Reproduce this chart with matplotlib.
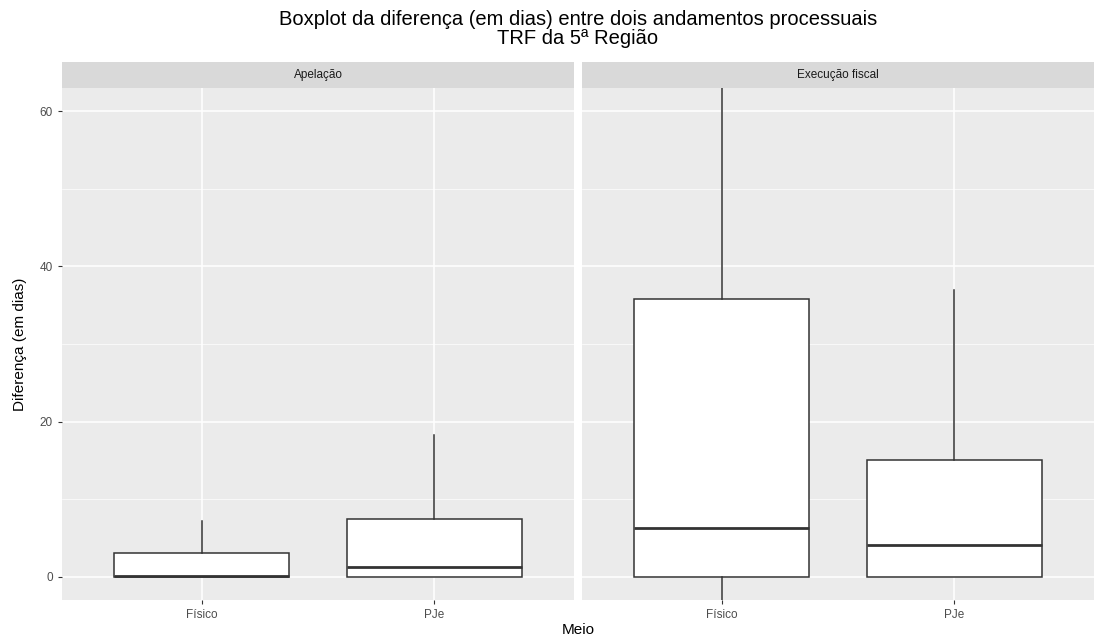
import matplotlib
matplotlib.use("Agg")
import matplotlib.pyplot as plt

plt.rcParams['font.family'] = ['Liberation Sans', 'DejaVu Sans']

# dados (dias)
paineis = ["Apelação", "Execução fiscal"]
meios = ["Físico", "PJe"]
q1 = [[0.0, 0.0], [0.0, 0.0]]
mediana = [[0.1, 1.2], [6.3, 4.1]]
q3 = [[3.0, 7.5], [35.8, 15.1]]
bigode_inf = [[0.0, 0.0], [-8.0, 0.0]]
bigode_sup = [[7.2, 18.3], [88.0, 37.0]]

fig = plt.figure(figsize=(10.94, 6.42), dpi=100)

pos_x = [62 / 1094, 582 / 1094]
larg = 512 / 1094
base = 42 / 642
alt = 512 / 642
strip_h = 26 / 642
centro = 578 / 1094  # centro da area dos paineis

for k, nome in enumerate(paineis):
    ax = fig.add_axes([pos_x[k], base, larg, alt])
    ax.set_facecolor("#EBEBEB")
    stats = []
    for j, m in enumerate(meios):
        stats.append({"label": m, "q1": q1[k][j], "med": mediana[k][j], "q3": q3[k][j],
                      "whislo": bigode_inf[k][j], "whishi": bigode_sup[k][j], "fliers": []})
    ax.bxp(stats, positions=[1, 2], widths=0.75, showcaps=False, patch_artist=True,
           boxprops=dict(facecolor="white", edgecolor="#333333", linewidth=1.1),
           medianprops=dict(color="#333333", linewidth=2.0),
           whiskerprops=dict(color="#333333", linewidth=1.1), zorder=3)
    ax.set_xlim(0.4, 2.6)
    ax.set_ylim(-3, 63)
    ax.set_yticks([0, 20, 40, 60])
    ax.set_yticks([10, 30, 50], minor=True)
    ax.grid(True, which="major", color="white", linewidth=1.1, zorder=0)
    ax.grid(True, which="minor", axis="y", color="white", linewidth=0.5, zorder=0)
    ax.set_axisbelow(True)
    for s in ax.spines.values():
        s.set_visible(False)
    ax.tick_params(axis="both", colors="#333333", length=3, width=0.8, labelsize=8.5,
                   labelcolor="#4D4D4D")
    ax.tick_params(which="minor", length=0)
    ax.set_xticks([1, 2])
    ax.set_xticklabels(meios)
    if k == 1:
        ax.tick_params(axis="y", left=False, labelleft=False)
    # faixa do painel
    sx = fig.add_axes([pos_x[k], base + alt, larg, strip_h])
    sx.set_facecolor("#D9D9D9")
    sx.set_xticks([])
    sx.set_yticks([])
    for s in sx.spines.values():
        s.set_visible(False)
    sx.text(0.5, 0.5, nome, ha="center", va="center", fontsize=8.5, color="#1A1A1A",
            transform=sx.transAxes)

fig.text(centro, 1 - 29 / 642, "Boxplot da diferença (em dias) entre dois andamentos processuais\nTRF da 5ª Região",
         ha="center", va="center", fontsize=14.5, linespacing=1.0)
fig.text(centro, 0.018, "Meio", ha="center", va="center", fontsize=11)
fig.text(0.018, base + alt / 2, "Diferença (em dias)", ha="center", va="center",
         rotation=90, fontsize=11)

plt.savefig("out.png", dpi=100)
